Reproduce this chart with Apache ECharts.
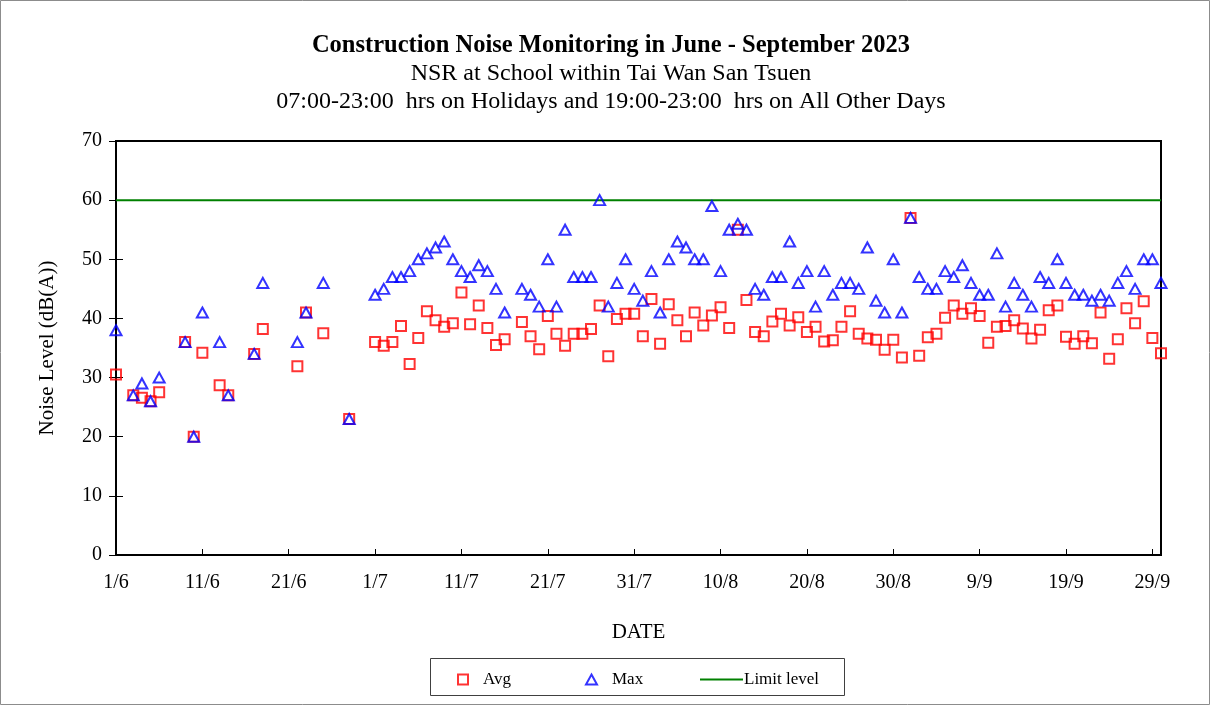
<!DOCTYPE html>
<html>
<head>
<meta charset="utf-8">
<script src="https://cdn.jsdelivr.net/npm/echarts/dist/echarts.min.js"></script>
<style>
html,body{margin:0;padding:0;background:#fff;}
#chart{width:1212px;height:707px;}
</style>
</head>
<body>
<div id="chart"></div>
<script>
// Dates (categories), 1 June - 30 September 2023
const dates = [
"1/6","2/6","3/6","4/6","5/6","6/6","7/6","8/6","9/6","10/6","11/6","12/6","13/6","14/6","15/6","16/6","17/6","18/6","19/6","20/6","21/6","22/6","23/6","24/6","25/6","26/6","27/6","28/6","29/6","30/6",
"1/7","2/7","3/7","4/7","5/7","6/7","7/7","8/7","9/7","10/7","11/7","12/7","13/7","14/7","15/7","16/7","17/7","18/7","19/7","20/7","21/7","22/7","23/7","24/7","25/7","26/7","27/7","28/7","29/7","30/7","31/7",
"1/8","2/8","3/8","4/8","5/8","6/8","7/8","8/8","9/8","10/8","11/8","12/8","13/8","14/8","15/8","16/8","17/8","18/8","19/8","20/8","21/8","22/8","23/8","24/8","25/8","26/8","27/8","28/8","29/8","30/8","31/8",
"1/9","2/9","3/9","4/9","5/9","6/9","7/9","8/9","9/9","10/9","11/9","12/9","13/9","14/9","15/9","16/9","17/9","18/9","19/9","20/9","21/9","22/9","23/9","24/9","25/9","26/9","27/9","28/9","29/9","30/9"
];

// Avg noise level, dB(A) (null = no measurement)
const avgJune = [30.5,null,27,26.6,26,27.5,null,null,36,20,34.2,null,28.7,27,null,null,34,38.2,null,null,null,31.9,41,null,37.5,null,null,23,null,null];
const avgJuly = [36,35.4,36,38.7,32.3,36.7,41.2,39.7,38.6,39.2,44.4,39,42.2,38.4,35.5,36.5,null,39.4,37,34.8,40.4,37.4,35.4,37.4,37.4,38.2,42.2,33.6,39.9,40.8,40.8];
const avgAug = [37,43.3,35.7,42.4,39.7,37,41,38.8,40.5,41.9,38.4,55,43.1,37.7,37,39.5,40.8,38.8,40.2,37.7,38.6,36.1,36.3,38.6,41.2,37.4,36.6,36.4,34.7,36.4,33.4];
const avgSep = [57,33.7,36.8,37.4,40.1,42.2,40.8,41.7,40.4,35.9,38.6,38.7,39.7,38.3,36.6,38.1,41.4,42.2,36.9,35.7,37,35.8,41,33.2,36.5,41.7,39.2,42.9,36.7,34.1];

// Max noise level, dB(A)
const maxJune = [38,null,27,29,26,30,null,null,36,20,41,null,36,27,null,null,34,46,null,null,null,36,41,null,46,null,null,23,null,null];
const maxJuly = [44,45,47,47,48,50,51,52,53,50,48,47,49,48,45,41,null,45,44,42,50,42,55,47,47,47,60,42,46,50,45];
const maxAug = [43,48,41,50,53,52,50,50,59,48,55,56,55,45,44,47,47,53,46,48,42,48,44,46,46,45,52,43,41,50,41];
const maxSep = [57,47,45,45,48,47,49,46,44,44,51,42,46,44,42,47,46,50,46,44,44,43,44,43,46,48,45,50,50,46];

const limitLevel = 60;

const avgValues = avgJune.concat(avgJuly, avgAug, avgSep);
const maxValues = maxJune.concat(maxJuly, maxAug, maxSep);

const titleLines = [
  "Construction Noise Monitoring in June - September 2023",
  "NSR at School within Tai Wan San Tsuen",
  "07:00-23:00  hrs on Holidays and 19:00-23:00  hrs on All Other Days"
];

const serif = "'Liberation Serif','Times New Roman',serif";

const chart = echarts.init(document.getElementById('chart'));
const option = {
  animation: false,
  backgroundColor: '#fff',
  textStyle: { fontFamily: serif, color: '#000' },
  graphic: [
    { type: 'rect', shape: { x: 0.5, y: 0.5, width: 1209, height: 704 }, style: { fill: 'none', stroke: '#8c8c8c', lineWidth: 1 }, silent: true },
    { type: 'text', x: 611, y: 46, style: { text: titleLines[0], font: "bold 24.5px " + serif, fill: '#000', textAlign: 'center', textVerticalAlign: 'middle' } },
    { type: 'text', x: 611, y: 74, style: { text: titleLines[1], font: "24px " + serif, fill: '#000', textAlign: 'center', textVerticalAlign: 'middle' } },
    { type: 'text', x: 611, y: 102, style: { text: titleLines[2], font: "24px " + serif, fill: '#000', textAlign: 'center', textVerticalAlign: 'middle' } },
    { type: 'rect', shape: { x: 430.5, y: 658.5, width: 414, height: 37 }, style: { fill: 'none', stroke: '#404040', lineWidth: 1 }, silent: true }
  ],
  legend: [
    { data: ['Avg'], left: 452, top: 666, itemWidth: 10, itemHeight: 10, itemGap: 0, textStyle: { fontFamily: serif, fontSize: 17, color: '#000', padding: [0,0,0,10] } },
    { data: ['Max'], left: 580, top: 666, itemWidth: 11, itemHeight: 10, itemGap: 0, textStyle: { fontFamily: serif, fontSize: 17, color: '#000', padding: [0,0,0,10] } },
    { data: [{ name: 'Limit level', icon: 'rect' }], left: 695, top: 666, itemWidth: 43, itemHeight: 2, itemGap: 0, textStyle: { fontFamily: serif, fontSize: 17, color: '#000', padding: [0,0,0,-4] } }
  ],
  grid: { left: 116, right: 51, top: 141, bottom: 152, show: true, borderColor: '#000', borderWidth: 2, backgroundColor: 'transparent' },
  xAxis: {
    type: 'category',
    data: dates,
    boundaryGap: false,
    name: 'DATE',
    nameLocation: 'middle',
    nameGap: 67,
    nameTextStyle: { fontFamily: serif, fontSize: 21, color: '#000' },
    axisLine: { lineStyle: { color: '#000', width: 2 } },
    axisTick: { inside: true, interval: 9, length: 6, lineStyle: { color: '#000', width: 1 } },
    axisLabel: { interval: 9, margin: 18, fontFamily: serif, fontSize: 20, color: '#000' },
    splitLine: { show: false }
  },
  yAxis: [
    {
      type: 'value', min: 0, max: 70, interval: 10,
      name: 'Noise Level (dB(A))',
      nameLocation: 'middle',
      nameGap: 58,
      nameTextStyle: { fontFamily: serif, fontSize: 21, color: '#000' },
      axisLine: { show: true, lineStyle: { color: '#000', width: 2 } },
      axisTick: { show: true, length: 7, lineStyle: { color: '#000', width: 1 } },
      axisLabel: { margin: 14, fontFamily: serif, fontSize: 20, color: '#000' },
      splitLine: { show: false }
    },
    {
      type: 'value', min: 0, max: 70, interval: 10, position: 'left',
      axisLine: { show: false },
      axisTick: { show: true, inside: true, length: 7, lineStyle: { color: '#000', width: 1 } },
      axisLabel: { show: false },
      splitLine: { show: false }
    }
  ],
  series: [
    {
      name: 'Limit level',
      type: 'line',
      data: [[dates[0], limitLevel], [dates[dates.length - 1], limitLevel]],
      symbol: 'none',
      lineStyle: { color: '#008000', width: 2 },
      itemStyle: { color: '#008000' },
      silent: true,
      z: 1
    },
    {
      name: 'Avg',
      type: 'scatter',
      data: avgValues,
      symbol: 'rect',
      symbolSize: 10,
      itemStyle: { color: 'rgba(255,255,255,0)', borderColor: '#ff0000', borderWidth: 2 },
      z: 2
    },
    {
      name: 'Max',
      type: 'scatter',
      data: maxValues,
      symbol: 'triangle',
      symbolSize: [11, 10],
      itemStyle: { color: 'rgba(255,255,255,0)', borderColor: '#0000ff', borderWidth: 2 },
      z: 3
    }
  ]
};
chart.setOption(option);
</script>
</body>
</html>
